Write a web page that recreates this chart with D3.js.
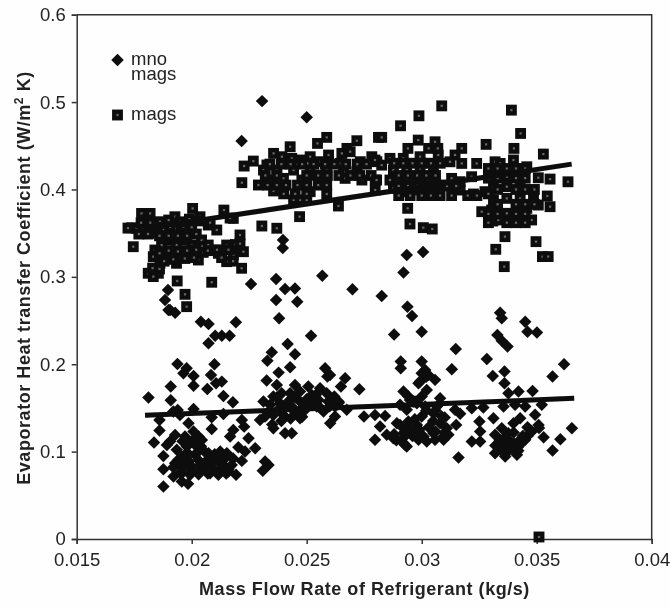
<!DOCTYPE html>
<html>
<head>
<meta charset="utf-8">
<script src="https://cdn.jsdelivr.net/npm/d3@7"></script>
<style>
body { margin: 0; background: #fefefe; }
text { font-family: "Liberation Sans", Arial, sans-serif; fill: #222; }
</style>
</head>
<body>
<div id="chart-area"></div>
<script>
// tick labels
var xTicks = [0.015, 0.02, 0.025, 0.03, 0.035, 0.04];
var yTicks = [0, 0.1, 0.2, 0.3, 0.4, 0.5, 0.6];

// [mass flow, coefficient]
var mnoMags = [
	[.01812,.162],[.01909,.1744],[.01909,.1587],[.01938,.2003],[.01978,.1953],[.01964,.1896],[.02008,.1865],[.02008,.1755],
	[.02099,.2],[.02084,.1877],[.02068,.1717],[.02106,.1782],[.02131,.1801],[.02138,.1637],[.02179,.1565],[.01939,.1477],
	[.0192,.1458],[.01949,.142],[.02008,.1488],[.02087,.1393],[.02138,.1431],[.0186,.1363],[.0186,.1241],[.01836,.1103],
	[.01928,.1191],[.02087,.126],[.02218,.1363],[.02228,.1286],[.02181,.1248],[.02167,.1172],[.02247,.1153],[.01892,.1077],
	[.01906,.1115],[.01877,.0951],[.01877,.0799],[.01877,.0601],[.02203,.105],[.02232,.1001],[.02276,.1039],[.02319,.0886],
	[.02334,.0848],[.02309,.078],[.02218,.0894],[.02193,.0734],[.01921,.0715],[.01957,.0658],[.01984,.0631],[.01986,.1324],
	[.02008,.1229],[.0203,.1172],[.01971,.1172],[.01979,.1058],[.02044,.1134],[.02022,.1058],[.01935,.102],[.01957,.094],
	[.01986,.0963],[.02015,.0963],[.01928,.0867],[.01964,.0848],[.02,.0829],[.02037,.0848],[.01957,.0753],[.01993,.0734],
	[.02029,.0753],[.02073,.0982],[.02066,.0848],[.02095,.0886],[.02124,.1001],[.02153,.0982],[.02116,.0905],[.02138,.0848],
	[.0208,.0753],[.02116,.0734],[.0216,.0772],[.02174,.0848],[.01986,.0886],
	[.0194,.09],[.0198,.091],[.0203,.09],[.0207,.091],[.0211,.09],[.0214,.091],[.0218,.092],
	[.0192,.082],[.0196,.081],[.02,.08],[.0205,.082],[.0209,.081],[.0213,.082],[.0216,.08],
	[.0195,.076],[.0199,.075],[.0203,.074],[.0207,.075],[.0212,.076],[.0215,.075],
	[.0198,.099],[.0202,.098],[.0206,.099],[.021,.097],[.0214,.096],[.0196,.112],[.02,.112],[.0204,.106],
	[.0204,.2487],[.02073,.2461],[.02192,.248],[.02073,.224],[.02102,.2327],[.02131,.2327],[.02165,.2327],[.01899,.2621],
	[.01928,.259],[.01884,.2735],[.01897,.2849],[.01906,.262],
	[.02258,.2918],[.02367,.2975],[.02406,.2861],[.02449,.2868],[.02367,.2735],[.02459,.2716],[.0238,.2525],[.02568,.3013],
	[.02699,.2857],[.02826,.278],[.02921,.3051],[.02938,.2659],[.02958,.2552],[.0288,.2339],[.03,.2373],[.02519,.2327],
	[.02417,.2232],[.02449,.2114],[.02348,.2137],[.02329,.2041],[.02428,.1965],[.02378,.1904],[.02326,.1813],[.0258,.1954],
	[.02601,.1878],[.0259,.1859],[.02667,.1839],[.02649,.1744],[.02729,.1714],[.02909,.203],[.02909,.1954],[.03,.203],
	[.03,.1897],[.02986,.1782],[.03019,.1858],[.02921,.1687],[.02942,.163],[.02964,.1573],[.02312,.1573],[.0237,.1763],
	[.02449,.1763],[.02507,.1744],[.02558,.1725],[.02587,.1668],[.02355,.163],[.02391,.1668],[.02428,.1668],[.02471,.1687],
	[.02522,.1649],[.02341,.1535],[.02384,.1554],[.0242,.1573],[.02471,.1573],[.02507,.1554],[.02551,.1592],[.02594,.1573],
	[.02638,.1573],[.02319,.1401],[.02355,.142],[.02399,.142],[.02442,.1496],[.02486,.1516],[.02544,.1516],[.02573,.1458],
	[.02623,.1516],[.02674,.1478],[.02297,.1363],[.02355,.1268],[.02406,.1211],[.02435,.1211],[.02471,.1382],[.02602,.1325],
	[.02623,.1401],[.02749,.1401],[.02797,.142],[.02841,.1409],[.02819,.1287],[.02848,.1192],[.02892,.1325],[.02797,.1135],
	[.02877,.1154],[.02928,.1077],[.02921,.1211],
	[.0234,.147],[.0238,.149],[.0241,.153],[.0245,.145],[.0249,.147],[.0253,.155],[.0256,.15],[.026,.152],[.0264,.156],
	[.0237,.162],[.0245,.162],[.025,.16],[.0254,.165],[.0262,.163],[.0243,.138],[.0239,.135],[.0235,.131],[.0248,.14],
	[.03148,.2175],[.03131,.1942],[.03015,.1935],[.03029,.1878],[.02993,.1802],[.03058,.1821],[.03022,.1706],[.03,.163],
	[.02949,.1592],[.02971,.1573],[.0308,.1611],[.03145,.1478],[.03167,.1432],[.03218,.1497],[.03268,.1504],[.0315,.1306],
	[.03312,.1382],[.03251,.1344],[.03254,.123],[.03218,.1116],[.03254,.1116],[.0316,.0933],[.03283,.2061],[.03309,.1866],
	[.0336,.1916],[.0336,.1783],[.03341,.259],[.03348,.2525],[.03329,.2335],[.03348,.227],[.03373,.2202],[.0345,.2487],
	[.0346,.2373],[.03501,.2362],[.03619,.2],[.03569,.1859],[.03377,.1668],[.03421,.1687],[.03482,.1695],[.03356,.1516],
	[.03406,.1535],[.0345,.1516],[.03522,.1535],[.03493,.1421],[.03428,.1382],[.03399,.1325],[.03508,.1306],[.03479,.123],
	[.0345,.1135],[.03421,.1059],[.0353,.1165],[.03603,.1142],[.03653,.1268],[.03569,.1013],[.03348,.1268],[.03319,.1192],
	[.03377,.1211],[.03341,.1097],[.03399,.1097],[.03428,.1135],[.03319,.0982],[.03363,.0944],[.03414,.0963],[.0337,.104],
	[.03406,.1021],[.03341,.1021],
	[.02906,.1535],[.02935,.1478],[.02979,.1554],[.03015,.1516],[.03051,.144],[.03087,.1401],[.03066,.1516],[.02906,.1306],
	[.02942,.1344],[.02979,.1306],[.0308,.1325],[.03,.1401],[.03109,.1268],[.02928,.123],[.02971,.123],[.03008,.1173],
	[.03051,.1211],[.03095,.1173],[.03116,.1192],[.02935,.1059],[.02986,.1135],[.03022,.1116],[.03058,.1135],[.03095,.1135],
	[.0288,.12],[.0292,.116],[.0296,.118],[.0299,.125],[.0303,.128],[.0306,.123],[.031,.122],[.0294,.128],[.0297,.137],
	[.0302,.147],[.0305,.135],[.031,.139],[.0306,.147],[.0289,.113],[.0292,.11],
	[.0334,.113],[.0338,.113],[.0335,.104],[.0339,.105],[.0343,.109],[.0337,.099],[.0332,.107],[.0344,.118],[.0336,.116],
	[.034,.122],[.0347,.125],[.0351,.127],[.0346,.118],[.0342,.101],[.0346,.128],
	[.02306,.5011],[.025,.4826],[.02217,.4554],[.02397,.3421],[.02396,.333],[.02935,.325],[.03006,.3284]
];

var mags = [
	[.01782,.3726],[.01819,.3726],[.01739,.3562],[.0176,.3555],[.0179,.3555],[.01819,.3498],[.01746,.3345],[.01927,.3688],
	[.01862,.3631],[.02004,.3783],[.0214,.3764],[.02036,.3688],[.02181,.3669],[.02072,.3593],[.02109,.3536],[.0221,.3479],
	[.01876,.3536],[.01927,.3555],[.02,.3566],[.01906,.3574],[.01964,.3574],[.01869,.3364],[.01934,.3364],[.02,.3364],
	[.0184,.3307],[.01906,.3422],[.01971,.3422],[.02043,.3422],[.01862,.3155],[.01934,.3155],[.01833,.3231],[.01898,.325],
	[.01964,.325],[.02029,.3193],[.02072,.3364],[.01884,.325],[.02116,.3269],[.02152,.3364],[.02181,.3307],[.02225,.3288],
	[.02152,.3174],[.02181,.325],[.02217,.3098],[.01811,.3041],[.01855,.3041],[.01833,.3003],[.01937,.2953],[.02087,.2938],
	[.01971,.28],[.01978,.2659],[.01723,.3558],
	[.0186,.347],[.019,.347],[.0194,.347],[.0198,.347],[.0202,.349],[.0186,.327],[.019,.33],[.0194,.329],[.0198,.33],[.0202,.331],
	[.0205,.328],[.0188,.318],[.0192,.32],[.0197,.321],[.0201,.322],[.0207,.33],[.0211,.331],[.0213,.322],[.0216,.331],
	[.0219,.337],[.0221,.338],[.0218,.318],[.0178,.362],[.0182,.362],[.0177,.349],[.0181,.349],[.0185,.3565],[.0183,.31],
	[.0186,.309],[.019,.365],[.0195,.363],[.0199,.366],[.0203,.364],[.0208,.362],
	[.02218,.4078],[.02228,.4268],[.02268,.4325],[.02167,.3673],[.02469,.3689],[.02305,.3582],[.0237,.3556],[.02638,.3811],
	[.02587,.3948],[.02587,.4596],[.02547,.4527],[.02718,.4558],[.02675,.447],[.02428,.4489],[.02356,.4413],[.02327,.428],
	[.02812,.4596],[.02783,.4375],[.02733,.4318],[.02805,.4318],[.02689,.4432],[.02653,.4413],[.02392,.4375],[.02479,.4337],
	[.02551,.4318],[.02646,.4299],[.02435,.4356],[.02515,.4375],[.02595,.4394],[.02334,.4108],[.02399,.4127],[.02479,.4108],
	[.02551,.4089],[.02667,.4127],[.0274,.4108],[.02798,.4108],[.02312,.4222],[.0237,.4222],[.02443,.4222],[.02515,.4222],
	[.02587,.4222],[.0266,.4203],[.02718,.4203],[.0229,.4051],[.02356,.3983],[.02385,.4032],[.02472,.388],[.02443,.388],
	[.02515,.3975],[.025,.388],[.02587,.4051],[.02798,.3994],[.02544,.4165],
	[.0234,.429],[.0239,.429],[.0243,.429],[.0248,.429],[.0253,.429],[.0258,.429],[.0262,.429],[.0267,.429],[.0272,.429],[.0276,.429],
	[.0232,.416],[.0237,.416],[.025,.416],[.0255,.416],[.0259,.416],[.0264,.416],[.0269,.416],[.0273,.416],[.0278,.416],
	[.0233,.405],[.0237,.405],[.0241,.405],[.0246,.405],[.025,.405],[.0255,.405],[.024,.395],[.0245,.395],[.025,.395],
	[.02826,.4596],[.02908,.4729],[.02988,.4843],[.03087,.4957],[.0339,.4908],[.0328,.4516],[.0343,.4641],[.03401,.447],
	[.03529,.4405],[.03636,.4088],[.03558,.4119],[.03507,.4134],[.02985,.4565],[.03058,.4546],[.03174,.447],[.03145,.4394],
	[.03072,.4394],[.02993,.4375],[.0292,.4356],[.02862,.4356],[.02797,.4337],[.03239,.4298],[.03174,.4298],[.03123,.4317],
	[.02804,.4108],[.02862,.4108],[.02927,.4108],[.02993,.4108],[.03058,.4146],[.0313,.4127],[.03167,.4089],[.03217,.4146],
	[.02935,.4222],[.02993,.4241],[.03051,.426],[.02877,.4222],[.02826,.4279],[.02935,.3974],[.02877,.4013],[.02993,.3994],
	[.03051,.4032],[.03094,.4051],[.03167,.3994],[.02939,.3784],[.02949,.3605],[.03007,.3563],[.03046,.3548],[.03225,.3948],
	[.03275,.3975],[.03319,.4317],[.03399,.4337],[.03457,.426],[.03362,.346],[.03497,.3403],[.03322,.3315],[.03525,.3232],
	[.0355,.3232],[.03359,.3117],[.03478,.3651],[.03309,.3639],[.03261,.3746],[.03558,.3803],[.03546,.3925],[.03507,.3822],
	[.03457,.3784],[.03413,.3746],[.03312,.4184],[.0337,.4146],[.03428,.4184],[.03312,.4032],[.0337,.4032],[.03428,.4051],
	[.03486,.3994],[.03312,.3879],[.0337,.3898],[.03428,.3898],[.03486,.3879],[.03304,.3765],[.0337,.3727],[.03333,.3651],
	[.03341,.4298],[.0351,.0023],
	[.0294,.447],[.0303,.447],[.0307,.447],[.0288,.43],[.0292,.43],[.0296,.43],[.03,.43],[.0304,.43],[.0308,.43],
	[.029,.416],[.0294,.416],[.0298,.416],[.0302,.416],[.0306,.416],[.029,.404],[.0294,.404],[.0298,.404],[.0302,.404],
	[.0306,.404],[.0311,.404],[.0315,.404],[.029,.393],[.0295,.393],[.03,.393],[.0304,.393],[.0308,.393],[.0313,.393],
	[.032,.393],[.0324,.393],
	[.0329,.424],[.0333,.424],[.0337,.424],[.0341,.424],[.0345,.424],[.0329,.413],[.0333,.413],[.0341,.413],[.0345,.413],
	[.0333,.4],[.0341,.4],[.0345,.4],[.0349,.4],[.0329,.395],[.0333,.383],[.0341,.383],[.0345,.383],[.0349,.383],
	[.0329,.372],[.0333,.372],[.0341,.372],[.0345,.372],[.0329,.362],[.0337,.362],[.0341,.362],[.0345,.362]
];

// trend lines, two end points each
var mnoMagsTrend = [[.01797,.1415],[.03663,.161]];
var magsTrend = [[.0179,.3552],[.03652,.429]];

var margin = { top: 14.7, right: 18.3, bottom: 69, left: 76.7 };
var width = 670 - margin.left - margin.right;
var height = 608 - margin.top - margin.bottom;

var svg = d3.select('#chart-area').append('svg')
			.attr('width', width + margin.left + margin.right)
			.attr('height', height + margin.top + margin.bottom);

// the original is a soft scan
svg.append('filter').attr('id', 'scan')
	.append('feGaussianBlur').attr('stdDeviation', 0.4);

var root = svg.append('g').attr('filter', 'url(#scan)');
var g = root.append('g').attr('transform', `translate(${margin.left}, ${margin.top})`);

var x = d3.scaleLinear().domain([0.015, 0.04]).range([0, width]);
var y = d3.scaleLinear().domain([0, 0.6]).range([height, 0]);

var xAxisCall = d3.axisBottom(x).tickValues(xTicks).tickFormat(String).tickSizeOuter(0).tickSize(5).tickPadding(9);
var yAxisCall = d3.axisLeft(y).tickValues(yTicks).tickFormat(String).tickSizeOuter(0).tickSize(5).tickPadding(6);

var xAxis = g.append('g').attr('transform', `translate(0, ${height})`).call(xAxisCall);
var yAxis = g.append('g').call(yAxisCall);
g.selectAll('.domain, .tick line').attr('stroke', '#333').attr('stroke-width', 1.5);
g.selectAll('.tick text').attr('font-size', '18.5px').attr('fill', '#222');

// top and right of the frame
g.append('path')
	.attr('d', `M0,0H${width}V${height}`)
	.attr('fill', 'none').attr('stroke', '#333').attr('stroke-width', 1.5);

var square = d3.symbol().type(d3.symbolSquare).size(118);
var diamond = d3.symbol().type(d3.symbolSquare).size(78);
var speck = d3.symbol().type(d3.symbolSquare).size(5);

function drawMags(sel) {
	sel.append('path').attr('d', square).attr('fill', '#0c0c0c');
	sel.append('path').attr('d', speck).attr('fill', '#666');
}

g.selectAll('.mno').data(mnoMags).enter().append('path')
	.attr('class', 'mno')
	.attr('d', diamond)
	.attr('fill', '#0a0a0a')
	.attr('transform', d => `translate(${x(d[0])}, ${y(d[1])}) rotate(45)`);

g.selectAll('.mags').data(mags).enter().append('g')
	.attr('class', 'mags')
	.attr('transform', d => `translate(${x(d[0])}, ${y(d[1])})`)
	.call(drawMags);

var trend = d3.line().x(d => x(d[0])).y(d => y(d[1]));
[mnoMagsTrend, magsTrend].forEach(t => {
	g.append('path').attr('d', trend(t)).attr('fill', 'none').attr('stroke', '#0a0a0a').attr('stroke-width', 5);
});

// legend, the first entry wraps onto two lines
root.append('path').attr('d', diamond).attr('fill', '#0a0a0a').attr('transform', 'translate(117.5, 60) rotate(45)');
root.append('g').attr('transform', 'translate(117.5, 115)').call(drawMags);
var firstEntry = root.append('text').attr('y', 64.5).attr('font-size', '18.5px');
firstEntry.append('tspan').attr('x', 131).text('mno');
firstEntry.append('tspan').attr('x', 131).attr('dy', 15).text('mags');
root.append('text').attr('x', 131).attr('y', 120).attr('font-size', '18.5px').text('mags');

// axis labels
root.append('text')
	.attr('x', 364.5).attr('y', 595)
	.attr('font-size', '18px').attr('font-weight', 'bold')
	.attr('letter-spacing', '0.55px')
	.attr('text-anchor', 'middle')
	.text('Mass Flow Rate of Refrigerant (kg/s)');

var yAxisLabel = root.append('text')
	.attr('transform', 'translate(30, 278) rotate(-90)')
	.attr('font-size', '18px').attr('font-weight', 'bold')
	.attr('letter-spacing', '0.55px')
	.attr('text-anchor', 'middle');
yAxisLabel.append('tspan').text('Evaporator Heat transfer Coefficient (W/m');
yAxisLabel.append('tspan').attr('font-size', '12px').attr('dy', -7).text('2');
yAxisLabel.append('tspan').attr('dy', 7).text(' K)');
</script>
</body>
</html>
